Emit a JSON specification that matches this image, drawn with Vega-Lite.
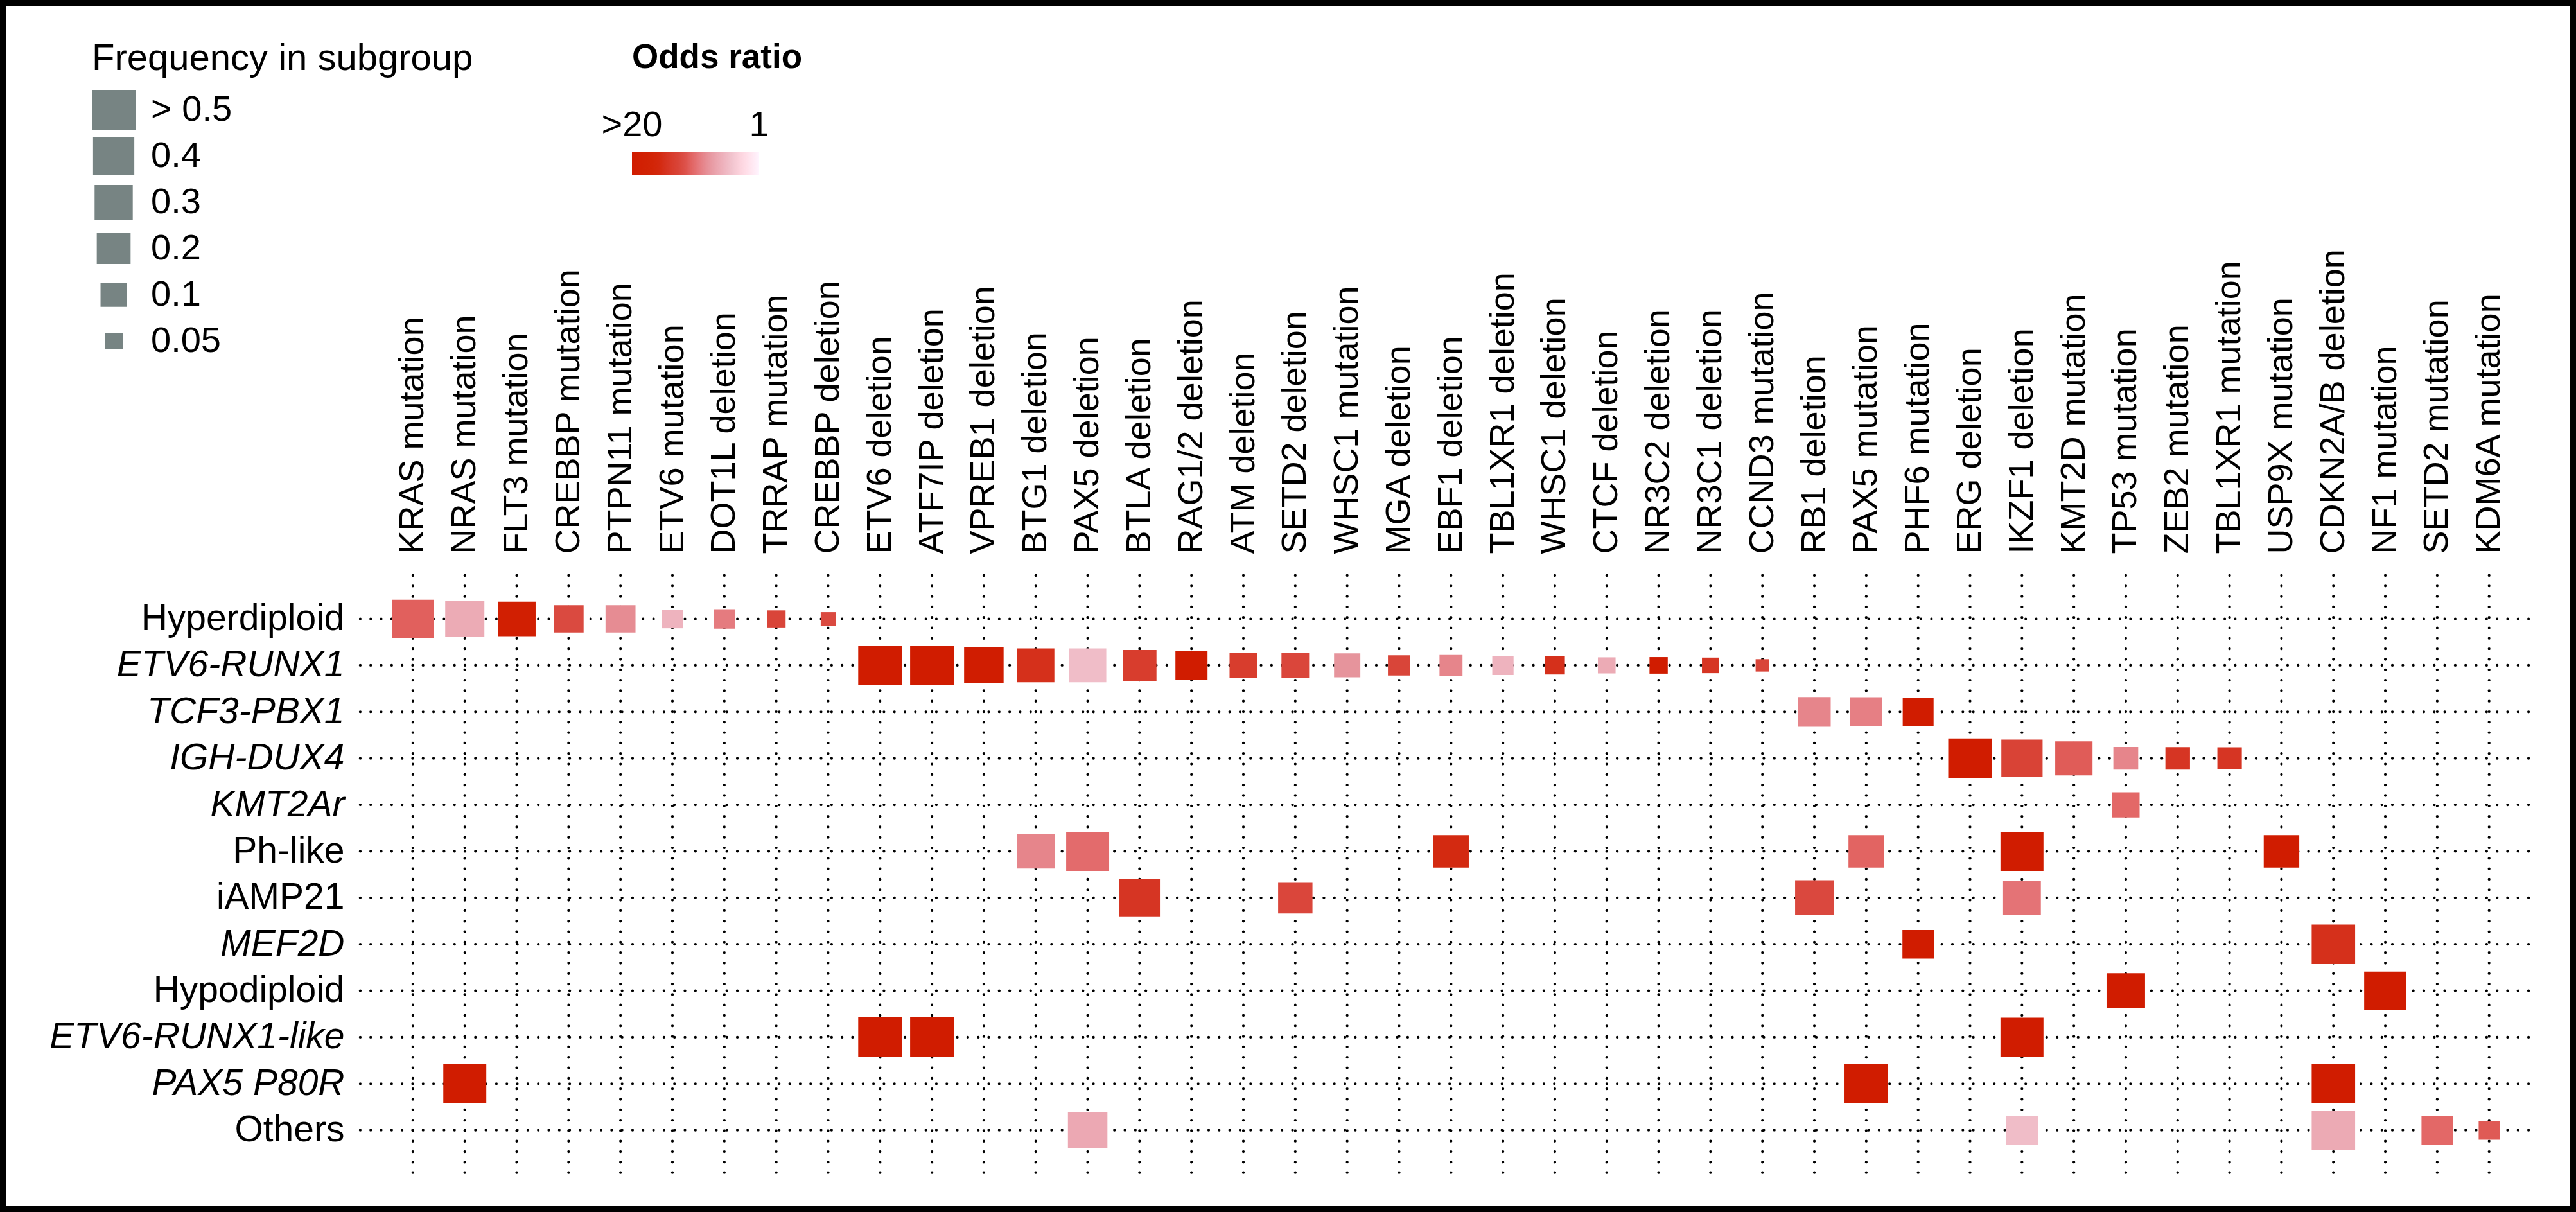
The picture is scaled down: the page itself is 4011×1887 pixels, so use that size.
{
  "$schema": "https://vega.github.io/schema/vega-lite/v6.json",
  "width": 4011,
  "height": 1887,
  "autosize": {"type": "none"},
  "padding": 0,
  "background": "white",
  "config": {
    "view": {"stroke": "black", "strokeWidth": 18},
    "font": "Liberation Sans"
  },
  "datasets": {
    "subgroups": [
      {"g": "Hyperdiploid"}, {"g": "ETV6-RUNX1"}, {"g": "TCF3-PBX1"}, {"g": "IGH-DUX4"},
      {"g": "KMT2Ar"}, {"g": "Ph-like"}, {"g": "iAMP21"}, {"g": "MEF2D"},
      {"g": "Hypodiploid"}, {"g": "ETV6-RUNX1-like"}, {"g": "PAX5 P80R"}, {"g": "Others"}
    ],
    "alterations": [
      {"a": "KRAS mutation"}, {"a": "NRAS mutation"}, {"a": "FLT3 mutation"}, {"a": "CREBBP mutation"},
      {"a": "PTPN11 mutation"}, {"a": "ETV6 mutation"}, {"a": "DOT1L deletion"}, {"a": "TRRAP mutation"},
      {"a": "CREBBP deletion"}, {"a": "ETV6 deletion"}, {"a": "ATF7IP deletion"}, {"a": "VPREB1 deletion"},
      {"a": "BTG1 deletion"}, {"a": "PAX5 deletion"}, {"a": "BTLA deletion"}, {"a": "RAG1/2 deletion"},
      {"a": "ATM deletion"}, {"a": "SETD2 deletion"}, {"a": "WHSC1 mutation"}, {"a": "MGA deletion"},
      {"a": "EBF1 deletion"}, {"a": "TBL1XR1 deletion"}, {"a": "WHSC1 deletion"}, {"a": "CTCF deletion"},
      {"a": "NR3C2 deletion"}, {"a": "NR3C1 deletion"}, {"a": "CCND3 mutation"}, {"a": "RB1 deletion"},
      {"a": "PAX5 mutation"}, {"a": "PHF6 mutation"}, {"a": "ERG deletion"}, {"a": "IKZF1 deletion"},
      {"a": "KMT2D mutation"}, {"a": "TP53 mutation"}, {"a": "ZEB2 mutation"}, {"a": "TBL1XR1 mutation"},
      {"a": "USP9X mutation"}, {"a": "CDKN2A/B deletion"}, {"a": "NF1 mutation"}, {"a": "SETD2 mutation"},
      {"a": "KDM6A mutation"}
    ],
    "cells": [
      {"g": "Hyperdiploid", "a": "KRAS mutation", "f": 0.43, "o": 11.3},
      {"g": "Hyperdiploid", "a": "NRAS mutation", "f": 0.33, "o": 6.9},
      {"g": "Hyperdiploid", "a": "FLT3 mutation", "f": 0.29, "o": 19},
      {"g": "Hyperdiploid", "a": "CREBBP mutation", "f": 0.14, "o": 12.4},
      {"g": "Hyperdiploid", "a": "PTPN11 mutation", "f": 0.14, "o": 9},
      {"g": "Hyperdiploid", "a": "ETV6 mutation", "f": 0.061, "o": 6.3},
      {"g": "Hyperdiploid", "a": "DOT1L deletion", "f": 0.065, "o": 9.9},
      {"g": "Hyperdiploid", "a": "TRRAP mutation", "f": 0.053, "o": 13},
      {"g": "Hyperdiploid", "a": "CREBBP deletion", "f": 0.04, "o": 12.4},
      {"g": "ETV6-RUNX1", "a": "ETV6 deletion", "f": 0.55, "o": 22},
      {"g": "ETV6-RUNX1", "a": "ATF7IP deletion", "f": 0.6, "o": 22},
      {"g": "ETV6-RUNX1", "a": "VPREB1 deletion", "f": 0.34, "o": 19.5},
      {"g": "ETV6-RUNX1", "a": "BTG1 deletion", "f": 0.275, "o": 15.2},
      {"g": "ETV6-RUNX1", "a": "PAX5 deletion", "f": 0.275, "o": 5.6},
      {"g": "ETV6-RUNX1", "a": "BTLA deletion", "f": 0.2, "o": 13.9},
      {"g": "ETV6-RUNX1", "a": "RAG1/2 deletion", "f": 0.17, "o": 20},
      {"g": "ETV6-RUNX1", "a": "ATM deletion", "f": 0.113, "o": 13.9},
      {"g": "ETV6-RUNX1", "a": "SETD2 deletion", "f": 0.113, "o": 12.8},
      {"g": "ETV6-RUNX1", "a": "WHSC1 mutation", "f": 0.1, "o": 8.6},
      {"g": "ETV6-RUNX1", "a": "MGA deletion", "f": 0.071, "o": 13},
      {"g": "ETV6-RUNX1", "a": "EBF1 deletion", "f": 0.075, "o": 9.4},
      {"g": "ETV6-RUNX1", "a": "TBL1XR1 deletion", "f": 0.065, "o": 6.3},
      {"g": "ETV6-RUNX1", "a": "WHSC1 deletion", "f": 0.059, "o": 15.2},
      {"g": "ETV6-RUNX1", "a": "CTCF deletion", "f": 0.049, "o": 6.9},
      {"g": "ETV6-RUNX1", "a": "NR3C2 deletion", "f": 0.051, "o": 20},
      {"g": "ETV6-RUNX1", "a": "NR3C1 deletion", "f": 0.047, "o": 14.7},
      {"g": "ETV6-RUNX1", "a": "CCND3 mutation", "f": 0.037, "o": 13},
      {"g": "TCF3-PBX1", "a": "RB1 deletion", "f": 0.18, "o": 9.4},
      {"g": "TCF3-PBX1", "a": "PAX5 mutation", "f": 0.17, "o": 9.7},
      {"g": "TCF3-PBX1", "a": "PHF6 mutation", "f": 0.152, "o": 20},
      {"g": "IGH-DUX4", "a": "ERG deletion", "f": 0.55, "o": 22},
      {"g": "IGH-DUX4", "a": "IKZF1 deletion", "f": 0.4, "o": 13.2},
      {"g": "IGH-DUX4", "a": "KMT2D mutation", "f": 0.277, "o": 11.5},
      {"g": "IGH-DUX4", "a": "TP53 mutation", "f": 0.088, "o": 9.4},
      {"g": "IGH-DUX4", "a": "ZEB2 mutation", "f": 0.086, "o": 14.7},
      {"g": "IGH-DUX4", "a": "TBL1XR1 mutation", "f": 0.085, "o": 14.7},
      {"g": "KMT2Ar", "a": "TP53 mutation", "f": 0.113, "o": 10.9},
      {"g": "Ph-like", "a": "BTG1 deletion", "f": 0.29, "o": 9.4},
      {"g": "Ph-like", "a": "PAX5 deletion", "f": 0.47, "o": 10.7},
      {"g": "Ph-like", "a": "EBF1 deletion", "f": 0.235, "o": 15.8},
      {"g": "Ph-like", "a": "PAX5 mutation", "f": 0.235, "o": 11.1},
      {"g": "Ph-like", "a": "IKZF1 deletion", "f": 0.47, "o": 21},
      {"g": "Ph-like", "a": "USP9X mutation", "f": 0.235, "o": 20},
      {"g": "iAMP21", "a": "BTLA deletion", "f": 0.38, "o": 14.7},
      {"g": "iAMP21", "a": "SETD2 deletion", "f": 0.21, "o": 12.8},
      {"g": "iAMP21", "a": "RB1 deletion", "f": 0.31, "o": 12.6},
      {"g": "iAMP21", "a": "IKZF1 deletion", "f": 0.29, "o": 10.3},
      {"g": "MEF2D", "a": "PHF6 mutation", "f": 0.16, "o": 20},
      {"g": "MEF2D", "a": "CDKN2A/B deletion", "f": 0.49, "o": 15.2},
      {"g": "Hypodiploid", "a": "TP53 mutation", "f": 0.31, "o": 20},
      {"g": "Hypodiploid", "a": "NF1 mutation", "f": 0.44, "o": 21},
      {"g": "ETV6-RUNX1-like", "a": "ETV6 deletion", "f": 0.55, "o": 22},
      {"g": "ETV6-RUNX1-like", "a": "ATF7IP deletion", "f": 0.6, "o": 22},
      {"g": "ETV6-RUNX1-like", "a": "IKZF1 deletion", "f": 0.47, "o": 21},
      {"g": "PAX5 P80R", "a": "NRAS mutation", "f": 0.47, "o": 21},
      {"g": "PAX5 P80R", "a": "PAX5 mutation", "f": 0.49, "o": 21},
      {"g": "PAX5 P80R", "a": "CDKN2A/B deletion", "f": 0.49, "o": 21},
      {"g": "Others", "a": "PAX5 deletion", "f": 0.34, "o": 7.1},
      {"g": "Others", "a": "IKZF1 deletion", "f": 0.168, "o": 5.6},
      {"g": "Others", "a": "CDKN2A/B deletion", "f": 0.49, "o": 7},
      {"g": "Others", "a": "SETD2 mutation", "f": 0.16, "o": 10.9},
      {"g": "Others", "a": "KDM6A mutation", "f": 0.063, "o": 11.6}
    ]
  },
  "layer": [
    {
      "data": {"name": "subgroups"},
      "mark": {"type": "rule", "color": "black", "strokeWidth": 4.3, "strokeCap": "round", "strokeDash": [0.01, 16.3], "xOffset": -82, "x2Offset": 72},
      "encoding": {
        "y": {"field": "g", "type": "nominal"},
        "x": {"datum": "KRAS mutation", "type": "nominal"},
        "x2": {"datum": "KDM6A mutation"}
      }
    },
    {
      "data": {"name": "alterations"},
      "mark": {"type": "rule", "color": "black", "strokeWidth": 4.3, "strokeCap": "round", "strokeDash": [0.01, 16.3], "yOffset": -67.6, "y2Offset": 71.7},
      "encoding": {
        "x": {"field": "a", "type": "nominal"},
        "y": {"datum": "Hyperdiploid", "type": "nominal"},
        "y2": {"datum": "Others"}
      }
    },
    {
      "data": {"name": "cells"},
      "mark": {"type": "point", "filled": true, "opacity": 1, "strokeWidth": 0, "shape": "M-1,-0.91H1V0.91H-1Z"},
      "encoding": {
        "x": {
          "field": "a", "type": "nominal",
          "scale": {"type": "point", "padding": 0, "range": [642.9, 3875.7],
            "domain": ["KRAS mutation", "NRAS mutation", "FLT3 mutation", "CREBBP mutation", "PTPN11 mutation", "ETV6 mutation", "DOT1L deletion", "TRRAP mutation", "CREBBP deletion", "ETV6 deletion", "ATF7IP deletion", "VPREB1 deletion", "BTG1 deletion", "PAX5 deletion", "BTLA deletion", "RAG1/2 deletion", "ATM deletion", "SETD2 deletion", "WHSC1 mutation", "MGA deletion", "EBF1 deletion", "TBL1XR1 deletion", "WHSC1 deletion", "CTCF deletion", "NR3C2 deletion", "NR3C1 deletion", "CCND3 mutation", "RB1 deletion", "PAX5 mutation", "PHF6 mutation", "ERG deletion", "IKZF1 deletion", "KMT2D mutation", "TP53 mutation", "ZEB2 mutation", "TBL1XR1 mutation", "USP9X mutation", "CDKN2A/B deletion", "NF1 mutation", "SETD2 mutation", "KDM6A mutation"]},
          "axis": {"orient": "top", "offset": -896, "title": null, "domain": false, "ticks": false, "tickSize": 0, "grid": false, "labelAngle": -90, "labelAlign": "left", "labelBaseline": "middle", "labelPadding": 34, "labelFontSize": 54, "labelColor": "black", "labelLimit": 2000, "labelOverlap": false}
        },
        "y": {
          "field": "g", "type": "nominal",
          "scale": {"type": "point", "padding": 0, "range": [963.6, 1759.7],
            "domain": ["Hyperdiploid", "ETV6-RUNX1", "TCF3-PBX1", "IGH-DUX4", "KMT2Ar", "Ph-like", "iAMP21", "MEF2D", "Hypodiploid", "ETV6-RUNX1-like", "PAX5 P80R", "Others"]},
          "axis": {"orient": "left", "offset": -561, "title": null, "domain": false, "ticks": false, "tickSize": 0, "grid": false, "labelPadding": 25, "labelFontSize": 57, "labelColor": "black", "labelLimit": 2000, "labelOverlap": false,
            "labelFontStyle": {"condition": {"test": "indexof(['Hyperdiploid','Ph-like','iAMP21','Hypodiploid','Others'], datum.value) >= 0", "value": "normal"}, "value": "italic"}}
        },
        "size": {
          "field": "f", "type": "quantitative",
          "scale": {"type": "pow", "exponent": 0.3, "domain": [0.025, 0.5], "range": [60, 4624], "clamp": true},
          "legend": {"title": "Frequency in subgroup", "orient": "none", "legendX": 143, "legendY": 63, "direction": "vertical",
            "values": [0.5, 0.4, 0.3, 0.2, 0.1, 0.05],
            "labelExpr": "datum.value >= 0.5 ? '> 0.5' : datum.value == 0.05 ? '0.05' : format(datum.value, '.1f')",
            "symbolType": "M-1,-0.91H1V0.91H-1Z", "symbolFillColor": "#778483", "symbolStrokeWidth": 0, "symbolOpacity": 1,
            "titleFontSize": 58, "titleFontWeight": "normal", "titleColor": "black", "titleLimit": 2000, "titlePadding": 14,
            "labelFontSize": 56, "labelColor": "black", "labelOffset": 24, "labelLimit": 1000, "rowPadding": 0, "clipHeight": 72}
        },
        "color": {
          "field": "o", "type": "quantitative",
          "scale": {"domain": [20, 16.2, 12.4, 8.6, 4.8, 1], "range": ["#d01c00", "#d22608", "#da4a40", "#e6949c", "#f2c8d2", "#ffffff"], "clamp": true},
          "legend": {"title": "Odds ratio", "orient": "none", "legendX": 984, "legendY": 64, "direction": "horizontal",
            "gradientLength": 198, "gradientThickness": 37, "gradientStrokeWidth": 0,
            "values": [20, 1], "labelExpr": "datum.value >= 20 ? '>20' : '1'", "labelAlign": "center", "labelOffset": -105, "labelOverlap": false,
            "labelFontSize": 56, "labelColor": "black",
            "titleFontSize": 53, "titleFontWeight": "bold", "titleColor": "black", "titlePadding": 119, "titleLimit": 2000,
            "encoding": {"labels": {"align": {"value": "center"}}}}
        }
      }
    }
  ]
}
